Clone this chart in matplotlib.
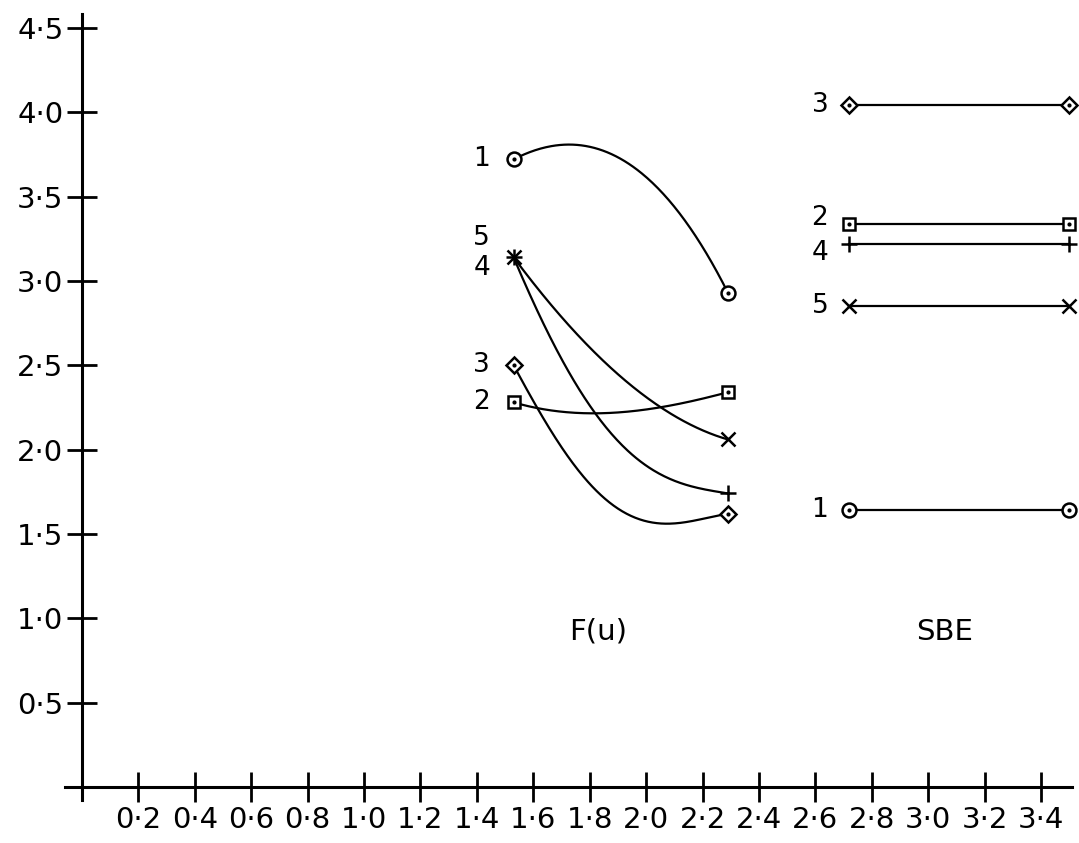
import numpy as np
import matplotlib.pyplot as plt

# F(u) curves: points, first/last are the plotted symbols
fu1_x = [1.53, 1.60, 1.74, 1.88, 2.01, 2.13, 2.22, 2.29]
fu1_y = [3.72, 3.77, 3.81, 3.75, 3.60, 3.36, 3.17, 2.93]

fu2_x = [1.53, 1.61, 1.70, 1.84, 1.98, 2.11, 2.22, 2.29]
fu2_y = [2.28, 2.25, 2.22, 2.22, 2.23, 2.27, 2.31, 2.34]

fu3_x = [1.53, 1.62, 1.71, 1.80, 1.90, 2.04, 2.18, 2.29]
fu3_y = [2.50, 2.22, 2.00, 1.80, 1.64, 1.57, 1.58, 1.62]

fu4_x = [1.53, 1.60, 1.675, 1.83, 1.92, 2.01, 2.13, 2.25, 2.29]
fu4_y = [3.14, 2.87, 2.62, 2.19, 2.02, 1.89, 1.80, 1.75, 1.74]

fu5_x = [1.53, 1.62, 1.79, 1.94, 2.05, 2.16, 2.29]
fu5_y = [3.14, 2.95, 2.62, 2.39, 2.25, 2.15, 2.06]

# SBE: constant value for each case
sbe_x = [2.72, 3.50]
sbe_vals = [1.64, 3.34, 4.04, 3.22, 2.85]

case_ids = [1, 2, 3, 4, 5]
x_ticks = [0.2, 0.4, 0.6, 0.8, 1.0, 1.2, 1.4, 1.6, 1.8, 2.0, 2.2, 2.4, 2.6, 2.8, 3.0, 3.2, 3.4]
y_ticks = [0.5, 1.0, 1.5, 2.0, 2.5, 3.0, 3.5, 4.0, 4.5]


def smooth(xs, ys, deg=4, num=200):
    # least squares polynomial, pinned hard at both end points
    xs = np.asarray(xs, float)
    ys = np.asarray(ys, float)
    w = np.ones(len(xs))
    w[0] = w[-1] = 20
    p = np.polyfit(xs, ys, deg, w=w)
    xf = np.linspace(xs[0], xs[-1], num)
    return xf, np.polyval(p, xf)


fig = plt.figure(figsize=(10.79, 8.43), dpi=100)
ax = fig.add_axes([0, 0, 1, 1])
ax.set_xlim(-0.291, 3.535)
ax.set_ylim(-0.332, 4.665)

# plotter style axes through the origin
for side in ['top', 'right']:
    ax.spines[side].set_visible(False)
ax.spines['left'].set_position(('data', 0))
ax.spines['bottom'].set_position(('data', 0))
ax.spines['left'].set_bounds(-0.077, 4.58)
ax.spines['bottom'].set_bounds(-0.06, 3.51)
for side in ['left', 'bottom']:
    ax.spines[side].set_linewidth(2.2)

ax.set_xticks(x_ticks)
ax.set_yticks(y_ticks)
ax.set_xticklabels([f'{v:.1f}'.replace('.', '·') for v in x_ticks])
ax.set_yticklabels([f'{v:.1f}'.replace('.', '·') for v in y_ticks])
ax.tick_params(direction='inout', length=21, width=2, labelsize=21, pad=3)

sym = {1: 'o', 2: 's', 3: 'D', 4: '+', 5: 'x'}
msize = {1: 10, 2: 8, 3: 8, 4: 12, 5: 10}
lw = 1.6

fu_x = [fu1_x, fu2_x, fu3_x, fu4_x, fu5_x]
fu_y = [fu1_y, fu2_y, fu3_y, fu4_y, fu5_y]
fu_deg = [3, 3, 4, 4, 3]

for k, xs, ys, d in zip(case_ids, fu_x, fu_y, fu_deg):
    xf, yf = smooth(xs, ys, deg=d)
    ax.plot(xf, yf, color='black', lw=lw)
    ends_x = [xs[0], xs[-1]]
    ends_y = [ys[0], ys[-1]]
    ax.plot(ends_x, ends_y, ls='none', marker=sym[k], ms=msize[k],
            mfc='white', mec='black', mew=1.8)
    if sym[k] in 'osD':
        ax.plot(ends_x, ends_y, ls='none', marker='.', ms=4, color='black')

for k, v in zip(case_ids, sbe_vals):
    ys = [v, v]
    ax.plot(sbe_x, ys, color='black', lw=lw)
    ax.plot(sbe_x, ys, ls='none', marker=sym[k], ms=msize[k],
            mfc='white', mec='black', mew=1.8)
    if sym[k] in 'osD':
        ax.plot(sbe_x, ys, ls='none', marker='.', ms=4, color='black')

# case numbers to the left of the first symbol
fu_dy = {1: 0, 2: 0, 3: 0, 4: -8, 5: 14}
sbe_dy = {1: 0, 2: 4, 3: 0, 4: -7, 5: 0}
for k, ys in zip(case_ids, fu_y):
    ax.annotate(str(k), (fu_x[k - 1][0], ys[0]), xytext=(-17, fu_dy[k]),
                textcoords='offset points', ha='right', va='center', fontsize=19)
for k, v in zip(case_ids, sbe_vals):
    ax.annotate(str(k), (sbe_x[0], v), xytext=(-15, sbe_dy[k]),
                textcoords='offset points', ha='right', va='center', fontsize=19)

ax.text(1.83, 0.92, 'F(u)', ha='center', va='center', fontsize=21)
ax.text(3.06, 0.92, 'SBE', ha='center', va='center', fontsize=21)

fig.savefig('out.png', dpi=100)
